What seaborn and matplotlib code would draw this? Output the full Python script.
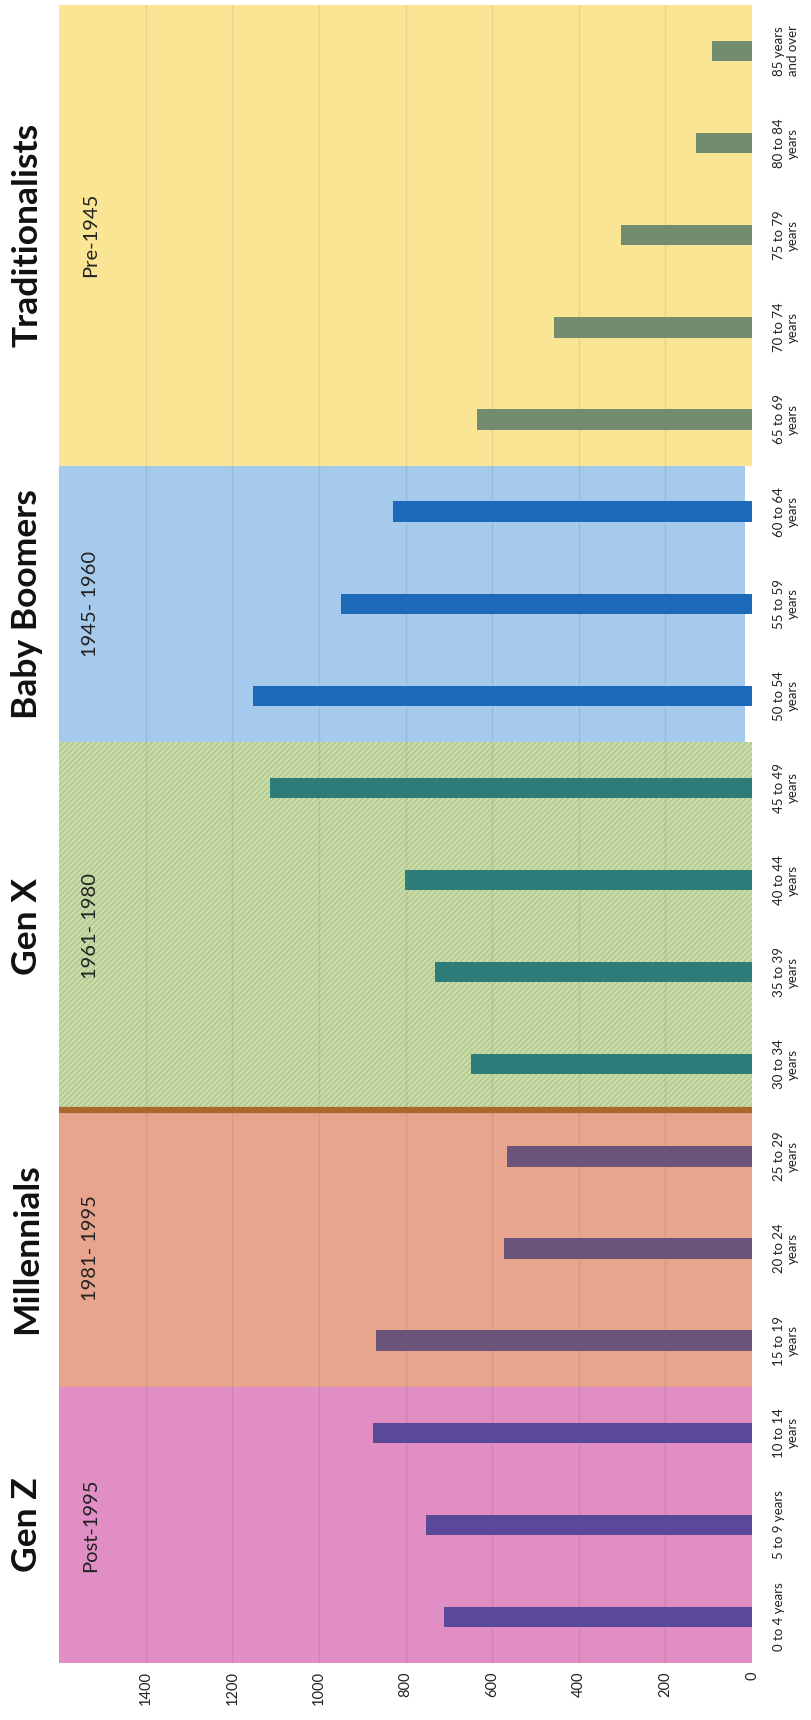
import matplotlib
matplotlib.use("Agg")
import matplotlib.pyplot as plt
import matplotlib.transforms as mtransforms
import seaborn as sns
import pandas as pd

# ---- data ----
categories = ["0 to 4 years", "5 to 9 years", "10 to 14\nyears", "15 to 19\nyears",
              "20 to 24\nyears", "25 to 29\nyears", "30 to 34\nyears", "35 to 39\nyears",
              "40 to 44\nyears", "45 to 49\nyears", "50 to 54\nyears", "55 to 59\nyears",
              "60 to 64\nyears", "65 to 69\nyears", "70 to 74\nyears", "75 to 79\nyears",
              "80 to 84\nyears", "85 years\nand over"]
values = [711, 753, 876, 867, 573, 566, 649, 733, 802, 1112, 1151, 948, 830,
          635, 456, 303, 129, 92]
generations = ["Gen Z", "Millennials", "Gen X", "Baby Boomers", "Traditionalists"]
gen_years = ["Post-1995", "1981- 1995", "1961- 1980", "1945- 1960", "Pre-1945"]
gen_counts = [3, 3, 4, 3, 5]
value_ticks = [0, 200, 400, 600, 800, 1000, 1200, 1400]

bg_colors = ["#E08EC3", "#E8A58D", "#CADDA7", "#A6CAEB", "#F9E593"]
bar_colors = ["#5A4898", "#6B5479", "#2E7C7A", "#1F6AB8", "#738C6F"]

gen_of_cat = []
for g, n in zip(generations, gen_counts):
    gen_of_cat += [g] * n

df = pd.DataFrame({"category": categories, "value": values, "generation": gen_of_cat})

sns.set_theme(style="white")
plt.rcParams["font.family"] = ["Lato", "DejaVu Sans"]

fig = plt.figure(figsize=(8.11, 17.2), dpi=100)
ax = fig.add_axes([59 / 811, 57 / 1720, 693 / 811, 1658 / 1720])

# generation backgrounds
start = 0
bounds = []
for i, n in enumerate(gen_counts):
    lo, hi = start - 0.5, start + n - 0.5
    bounds.append((lo, hi))
    kw = dict(facecolor=bg_colors[i], linewidth=0, zorder=0)
    if generations[i] == "Gen X":
        kw.update(hatch="//////", edgecolor="#AFC692")
    xmax = 0.99 if generations[i] == "Baby Boomers" else 1.0
    ax.axhspan(lo, hi, xmin=0, xmax=xmax, **kw)
    start += n

sns.barplot(data=df, x="value", y="category", hue="generation",
            palette=dict(zip(generations, bar_colors)), orient="h",
            dodge=False, width=0.22, legend=False, saturation=1, ax=ax,
            zorder=2, edgecolor="none", linewidth=0)

ax.axhline(bounds[1][1], color="#A8682E", lw=4.5, zorder=1.5)

ax.set_xlim(1600, 0)
ax.set_ylim(-0.5, len(categories) - 0.5)
ax.set_xticks(value_ticks)
ax.set_xticklabels([str(v) for v in value_ticks], rotation=90, fontsize=10.5, color="#222222")
ax.yaxis.tick_right()
ax.set_yticks(range(len(categories)))
ax.set_yticklabels(categories, rotation=90, fontsize=9.5, color="#222222",
                   va="center", ha="left", multialignment="center")
ax.tick_params(axis="both", length=0)
ax.tick_params(axis="x", pad=6)
ax.tick_params(axis="y", pad=15)
ax.set_xlabel("")
ax.set_ylabel("")
for s in ax.spines.values():
    s.set_visible(False)
ax.grid(False)

# faint vertical gridlines at the value ticks
for v in value_ticks[1:]:
    ax.axvline(v, color="#000000", alpha=0.07, lw=1.0, zorder=1)

trans = mtransforms.blended_transform_factory(ax.transAxes, ax.transData)
for (lo, hi), g, yrs in zip(bounds, generations, gen_years):
    yc = (lo + hi) / 2
    ax.text(-0.046, yc, g, transform=trans, rotation=90, ha="center", va="center",
            fontsize=25.5, fontweight="bold", color="#111111", clip_on=False)
    ax.text(0.045, yc, yrs, transform=trans, rotation=90, ha="center", va="center",
            fontsize=14.5, color="#222222", zorder=3)

fig.savefig("out.png", dpi=100)
